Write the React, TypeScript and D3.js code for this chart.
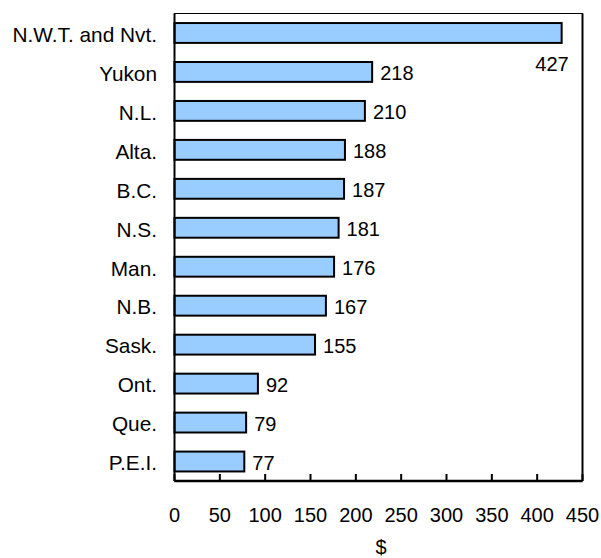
import React from "react";
import * as d3 from "d3";

const categories = ["N.W.T. and Nvt.", "Yukon", "N.L.", "Alta.", "B.C.", "N.S.", "Man.", "N.B.", "Sask.", "Ont.", "Que.", "P.E.I."];
const values = [427, 218, 210, 188, 187, 181, 176, 167, 155, 92, 79, 77];
const xTicks = [0, 50, 100, 150, 200, 250, 300, 350, 400, 450];
const xTitle = "$";

export default function App() {
  const W = 601, H = 558;
  const left = 174.5, right = 582.5, top = 13.5, bottom = 481;
  const x = d3.scaleLinear().domain([0, 450]).range([left, right]);
  const y = d3.scaleBand().domain(categories).range([top, bottom]).paddingInner(0.49).paddingOuter(0.245);
  const font = "'Liberation Sans', Arial, sans-serif";
  const fs = 20;
  return (
    <svg width={W} height={H} style={{ position: "absolute", left: 0, top: 0, background: "#fff" }} fontFamily={font}>
      <rect x={left} y={top} width={right - left} height={bottom - top} fill="none" stroke="#000" strokeWidth={1} />
      <line x1={right} x2={right} y1={top} y2={bottom} stroke="#000" strokeWidth={2} />
      {categories.map((c, i) => {
        const v = values[i];
        const yb = y(c)!;
        const bw = y.bandwidth();
        const isBig = v > 400;
        return (
          <g key={c}>
            <rect x={x(0)} y={yb} width={x(v) - x(0)} height={bw} fill="#99CCFF" stroke="#000" strokeWidth={2} />
            <text x={157} y={yb + bw / 2 + 1.5} dy="0.35em" textAnchor="end" fontSize={20.8} fill="#000">{c}</text>
            {isBig ? (
              <text x={x(v) + 7} y={yb + bw + 21} dy="0.35em" textAnchor="end" fontSize={fs} fill="#000">{v}</text>
            ) : (
              <text x={x(v) + 8} y={yb + bw / 2 + 1} dy="0.35em" fontSize={fs} fill="#000">{v}</text>
            )}
          </g>
        );
      })}
      <line x1={left} x2={right} y1={bottom} y2={bottom} stroke="#000" strokeWidth={2.5} />
      <line x1={left} x2={left} y1={top} y2={bottom} stroke="#000" strokeWidth={2} />
      {xTicks.map((t) => (
        <g key={t}>
          <line x1={x(t)} x2={x(t)} y1={bottom} y2={bottom - 7} stroke="#000" strokeWidth={2} />
          <text x={x(t)} y={515} dy="0.35em" textAnchor="middle" fontSize={fs} fill="#000">{t}</text>
        </g>
      ))}
      <text x={381} y={547} dy="0.35em" textAnchor="middle" fontSize={fs} fill="#000">{xTitle}</text>
    </svg>
  );
}
